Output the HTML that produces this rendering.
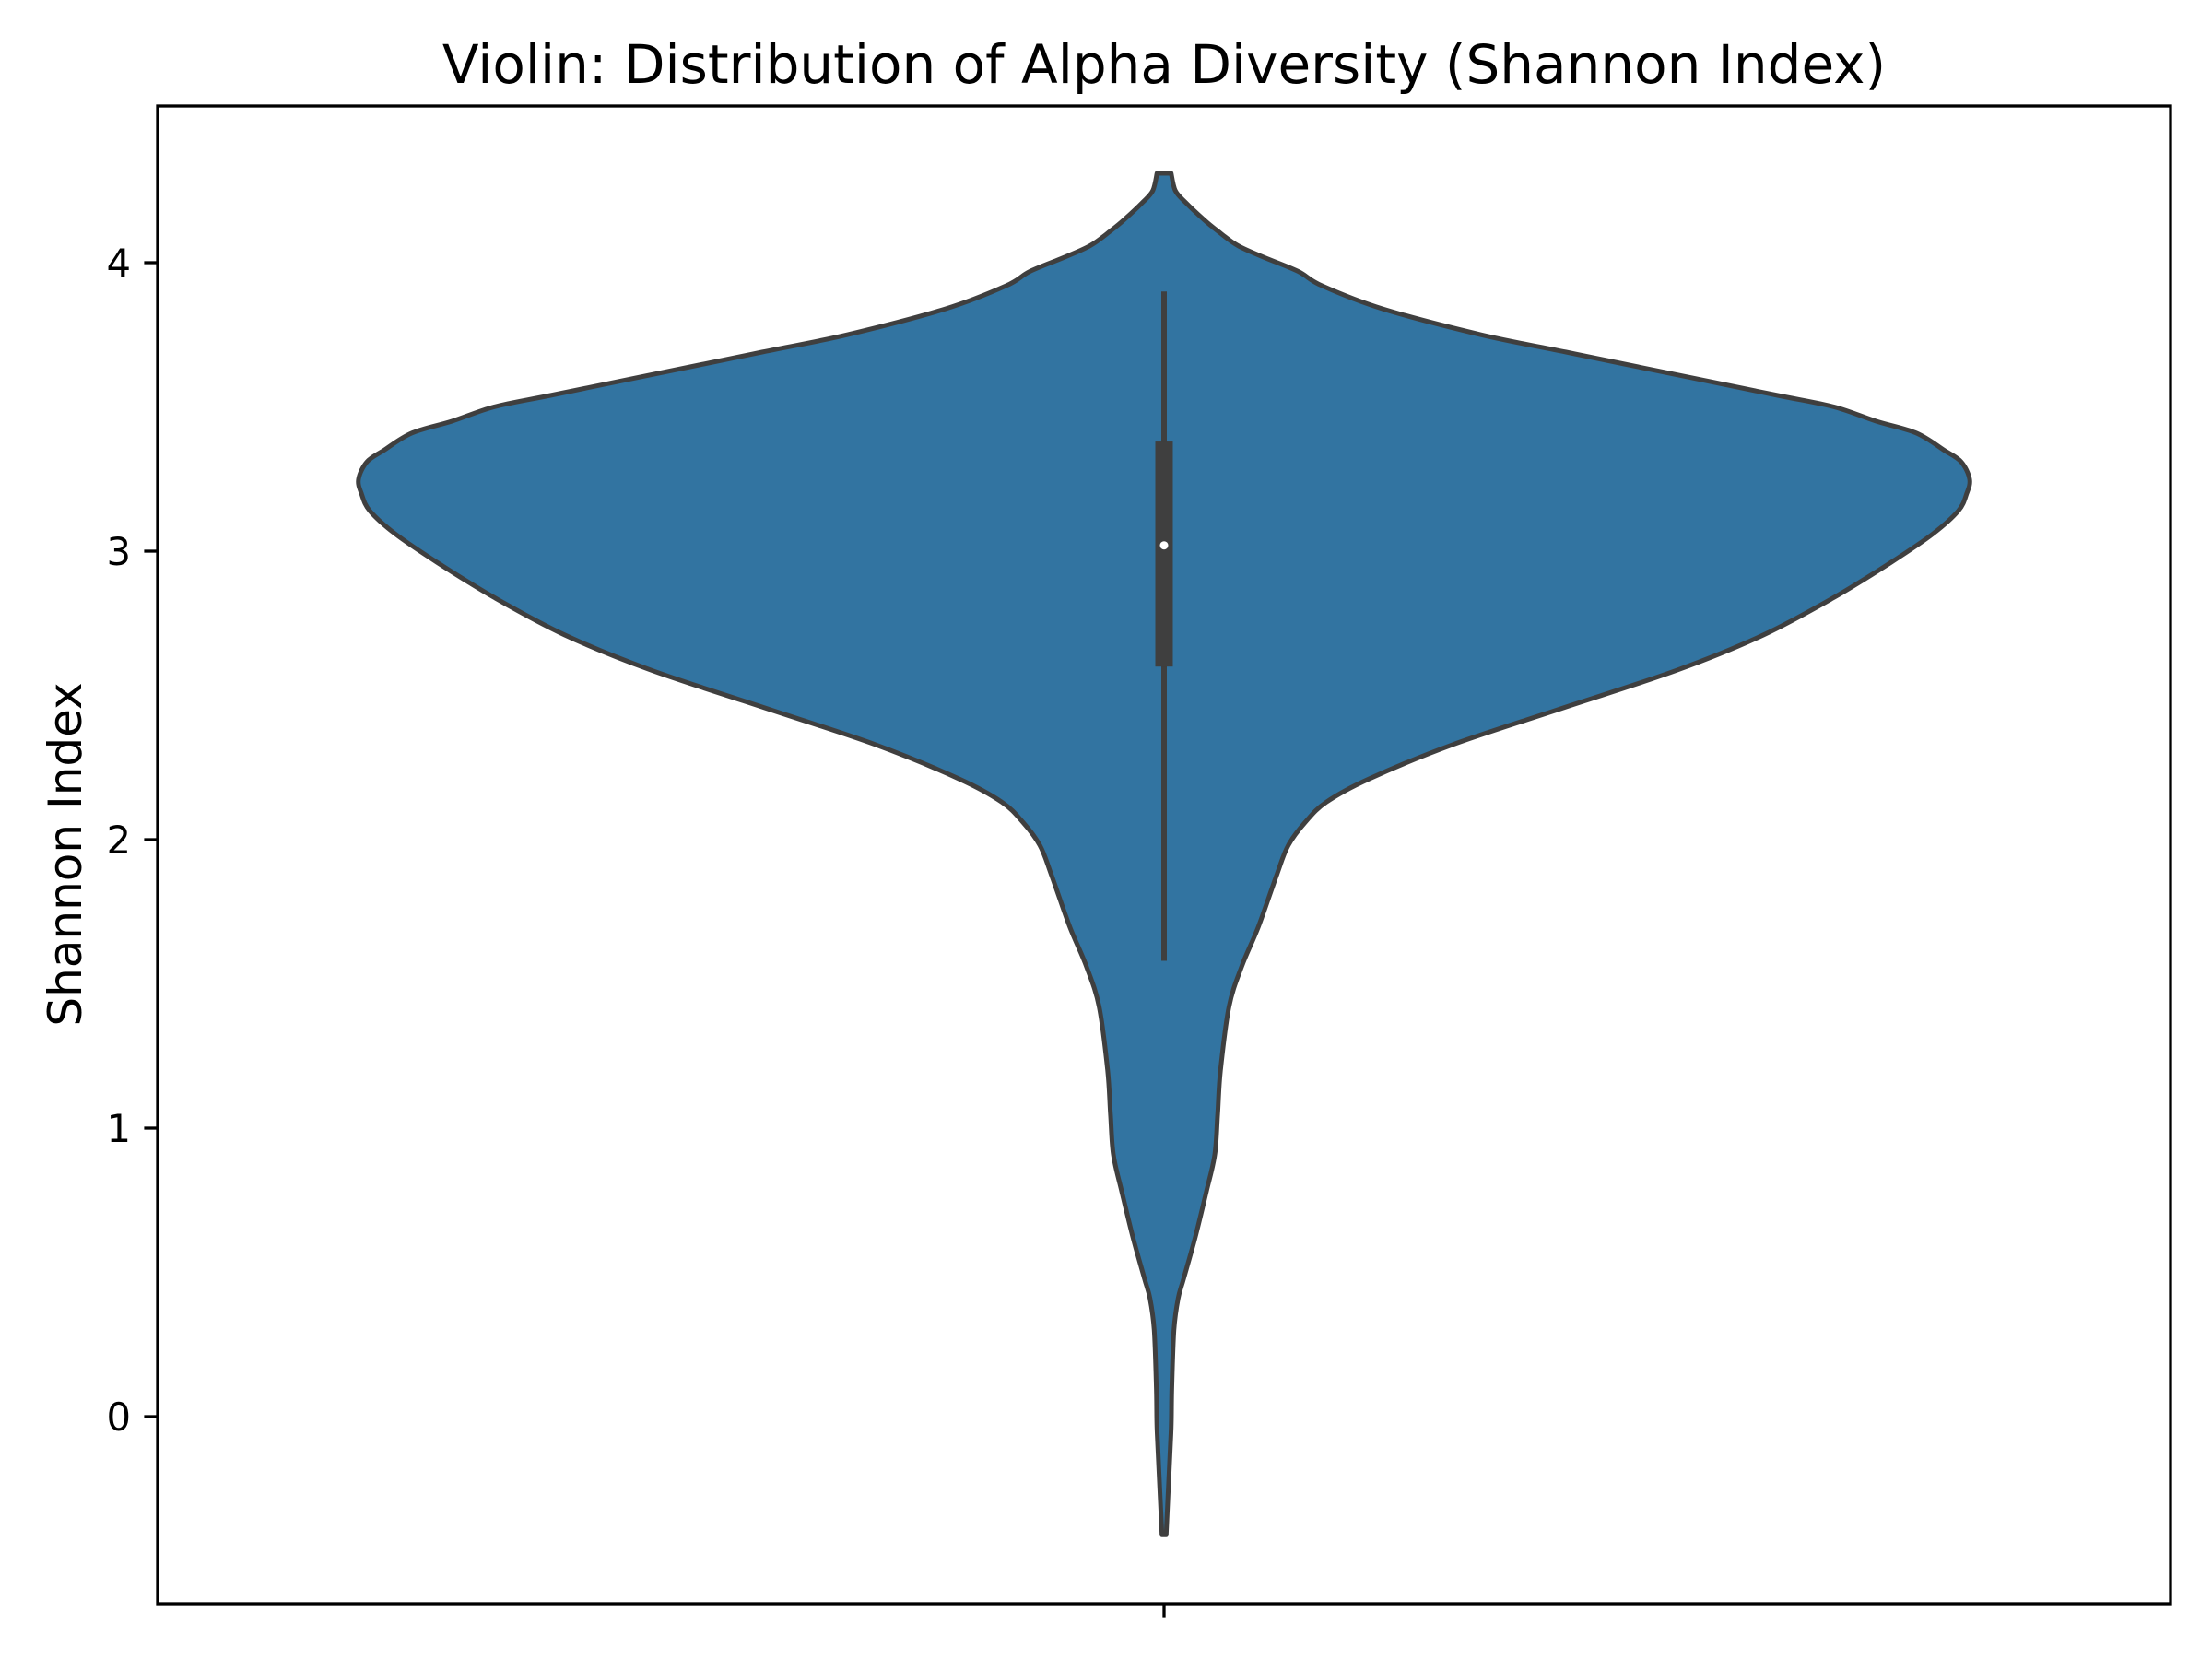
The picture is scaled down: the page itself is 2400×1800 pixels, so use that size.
<!DOCTYPE html>
<html><head><meta charset="utf-8"><style>html,body{margin:0;padding:0;background:#fff}svg{display:block}text{font-family:"DejaVu Sans","Liberation Sans",sans-serif;fill:#000}</style></head>
<body>
<svg id="chart" width="2400" height="1800" viewBox="0 0 2400 1800" xmlns="http://www.w3.org/2000/svg">
<rect x="0" y="0" width="2400" height="1800" fill="#fff"/>
<text x="1263" y="90" font-size="58" text-anchor="middle">Violin: Distribution of Alpha Diversity (Shannon Index)</text>
<text x="0" y="0" font-size="50" text-anchor="middle" transform="translate(88,927) rotate(-90)">Shannon Index</text>
<g id="plot"></g>
<rect x="171" y="115" width="2184" height="1625" fill="none" stroke="#000" stroke-width="3.3"/>
</svg>
<script>
const yTicks = [0, 1, 2, 3, 4];
const yTickLabels = ["0", "1", "2", "3", "4"];
const profileValues = [4.31,4.25,4.21,4.15,4.11,4.06,4.02,3.97,3.92,3.84,3.75,3.69,3.60,3.54,3.50,3.45,3.41,3.35,3.31,3.25,3.20,3.14,3.06,2.96,2.84,2.71,2.59,2.46,2.33,2.21,2.13,2.06,1.98,1.88,1.70,1.56,1.42,1.20,1.05,0.91,0.78,0.62,0.48,0.41,0.30,0.10,-0.04,-0.20,-0.41];
const profileDensity = [5,8,15,28,38,52,70,95,112,155,225,285,375,435,475,505,533,553,565,571,569,563,545,515,475,425,365,285,205,145,115,100,88,80,67,55,46,40,38,36,30,22,14,10,7,5.5,5,3.5,1.5];
const boxQ1 = 2.60, boxQ3 = 3.38, boxMedian = 3.02, whiskerLow = 1.58, whiskerHigh = 3.90;

const NS = "http://www.w3.org/2000/svg";
const plot = document.getElementById('plot');
const cx = 1263, axL = 171, axB = 1740;
function yScale(v){ return 1537 - 313 * v; }
const maxD = Math.max(...profileDensity);
function wScale(d){ return d / maxD * 874; }
function mk(tag, attrs){ const e = document.createElementNS(NS, tag); for (const k in attrs) e.setAttribute(k, attrs[k]); return e; }

function smooth(p){
  let d = '';
  for (let i = 0; i < p.length - 1; i++) {
    const p0 = p[Math.max(0, i - 1)], p1 = p[i], p2 = p[i + 1], p3 = p[Math.min(p.length - 1, i + 2)];
    const c1x = p1[0] + (p2[0] - p0[0]) / 6, c1y = p1[1] + (p2[1] - p0[1]) / 6;
    const c2x = p2[0] - (p3[0] - p1[0]) / 6, c2y = p2[1] - (p3[1] - p1[1]) / 6;
    d += ' C' + c1x.toFixed(1) + ',' + c1y.toFixed(1) + ' ' + c2x.toFixed(1) + ',' + c2y.toFixed(1) + ' ' + p2[0].toFixed(1) + ',' + p2[1].toFixed(1);
  }
  return d;
}
let right = [], left = [];
for (let i = 0; i < profileValues.length; i++) {
  const y = yScale(profileValues[i]), w = wScale(profileDensity[i]);
  right.push([cx + w, y]);
  left.push([cx - w, y]);
}
left.reverse();
let d = 'M' + right[0][0].toFixed(1) + ',' + right[0][1].toFixed(1) + smooth(right);
d += ' L' + left[0][0].toFixed(1) + ',' + left[0][1].toFixed(1) + smooth(left) + ' Z';
const violin = mk('path', {d: d, fill: '#3274a1', stroke: '#3f3f3f', 'stroke-width': 5, 'stroke-linejoin': 'round'});


plot.appendChild(violin);

const whisk = mk('line', {x1: cx, x2: cx, y1: yScale(whiskerHigh), y2: yScale(whiskerLow), stroke: '#3f3f3f', 'stroke-width': 6});


plot.appendChild(whisk);

const box = mk('rect', {x: cx - 9.5, y: yScale(boxQ3), width: 19, height: yScale(boxQ1) - yScale(boxQ3), fill: '#3f3f3f'});


plot.appendChild(box);

const med = mk('circle', {cx: cx, cy: yScale(boxMedian), r: 4.5, fill: '#fff'});


plot.appendChild(med);

for (let i = 0; i < yTicks.length; i++) {
  const y = yScale(yTicks[i]);
  const t = mk('line', {x1: axL - 14.6, x2: axL, y1: y, y2: y, stroke: '#000', 'stroke-width': 3.3});
  
  
  plot.appendChild(t);
  const lb = mk('text', {x: axL - 29, y: y + 15, 'font-size': 41.7, 'text-anchor': 'end'});
  lb.textContent = yTickLabels[i];
  
  
  plot.appendChild(lb);
}
const xt = mk('line', {x1: cx, x2: cx, y1: axB, y2: axB + 14.6, stroke: '#000', 'stroke-width': 3.3});


plot.appendChild(xt);
</script>
</body></html>
